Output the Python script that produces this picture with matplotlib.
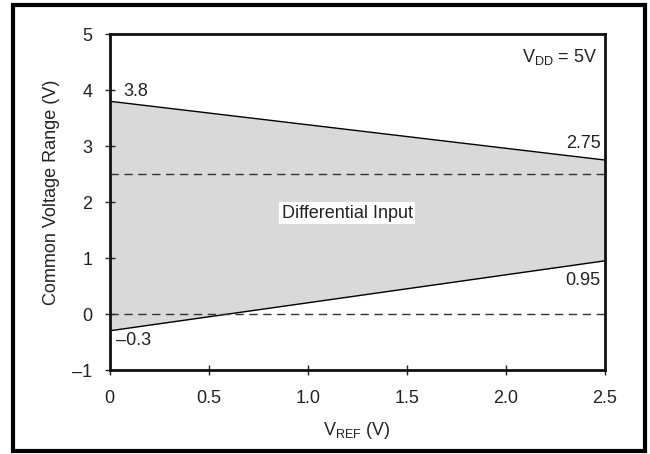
import matplotlib
matplotlib.use("Agg")
import matplotlib.pyplot as plt
from matplotlib.patches import Rectangle
import numpy as np

plt.rcParams['font.family'] = ['Liberation Sans', 'DejaVu Sans']
plt.rcParams['mathtext.fontset'] = 'custom'
plt.rcParams['mathtext.rm'] = 'Liberation Sans'

vref = [0.0, 2.5]
upper = [3.8, 2.75]
lower = [-0.3, 0.95]
dashed_levels = [0.0, 2.5]
xticks = [0, 0.5, 1.0, 1.5, 2.0, 2.5]
xticklabels = ['0', '0.5', '1.0', '1.5', '2.0', '2.5']
yticks = [-1, 0, 1, 2, 3, 4, 5]
yticklabels = ['\u20131', '0', '1', '2', '3', '4', '5']

FS = 13
TC = '#222222'

fig = plt.figure(figsize=(6.5, 4.54), dpi=100)
ax = fig.add_axes([0.1685, 0.185, 0.762, 0.74])

ax.fill_between(vref, lower, upper, color='#d9d9d9', linewidth=0)
ax.plot(vref, upper, color='black', lw=1)
ax.plot(vref, lower, color='black', lw=1)
for lvl in dashed_levels:
    ax.axhline(lvl, color='#333333', lw=1, ls=(0, (6, 4)))

ax.set_xlim(0, 2.5)
ax.set_ylim(-1, 5)
ax.set_xticks(xticks)
ax.set_xticklabels(xticklabels)
ax.set_yticks(yticks)
ax.set_yticklabels(yticklabels)
ax.tick_params(direction='inout', length=7, width=1, labelsize=FS, colors=TC, pad=9)
ax.tick_params(axis='x', pad=11)
for s in ax.spines.values():
    s.set_linewidth(2)
    s.set_color('#111111')

ax.set_xlabel(r'V$_{\mathregular{REF}}$ (V)', fontsize=FS, color=TC)
ax.set_ylabel('Common Voltage Range (V)', fontsize=FS, color=TC)
ax.xaxis.set_label_coords(0.5, -0.179)
ax.yaxis.set_label_coords(-0.118, 0.53)
ax.xaxis.label.set_va('center')
ax.yaxis.label.set_va('center')

ax.text(0.068, 3.98, '3.8', fontsize=FS, ha='left', va='center', color=TC)
ax.text(2.48, 3.05, '2.75', fontsize=FS, ha='right', va='center', color=TC)
ax.text(2.48, 0.59, '0.95', fontsize=FS, ha='right', va='center', color=TC)
ax.text(0.035, -0.48, '\u20130.3', fontsize=FS, ha='left', va='center', color=TC)
ax.text(2.46, 4.59, r'V$_{\mathregular{DD}}$ = 5V', fontsize=FS, ha='right', va='center', color=TC)
ax.text(1.2, 1.8, 'Differential Input', fontsize=FS, ha='center', va='center', color=TC,
        bbox=dict(facecolor='white', edgecolor='none', pad=2))

fig.patches.append(Rectangle((0.02, 0.006), 0.973, 0.983, transform=fig.transFigure,
                             fill=False, edgecolor='black', linewidth=3))

fig.savefig('out.png', dpi=100)
